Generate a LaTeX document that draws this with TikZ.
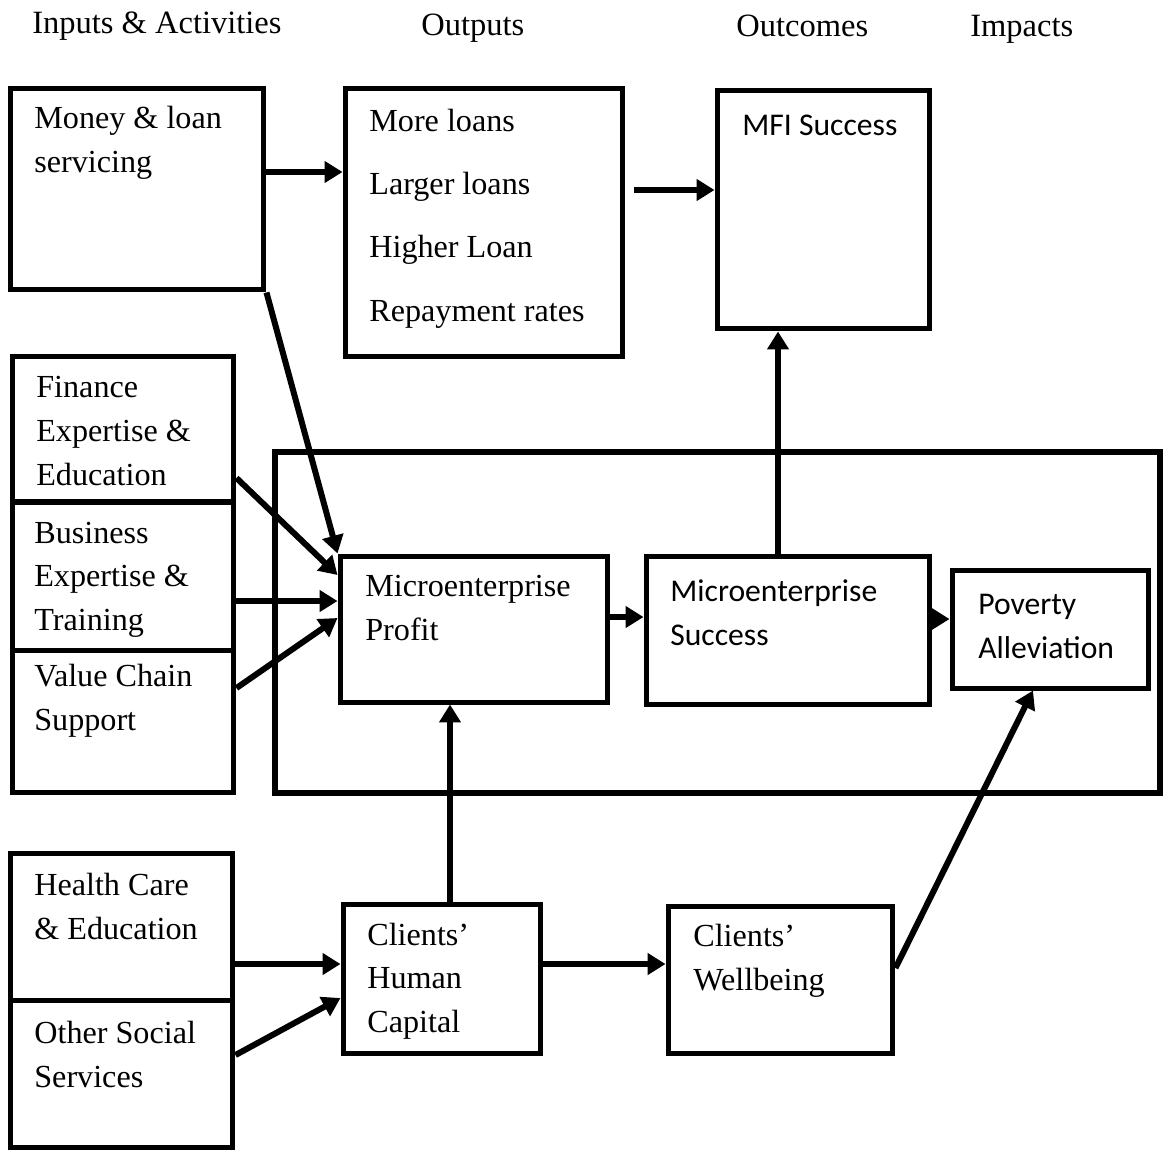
\documentclass[tikz,border=0pt]{standalone}
\usepackage{fontspec}
\setmainfont{Liberation Serif}
\newfontfamily\calib{Carlito}
\usetikzlibrary{arrows.meta,calc}
\tikzset{
	box/.style={draw,line width=0.1cm,inner sep=0pt},
	frame/.style={draw,line width=0.13cm,inner sep=0pt},
	arr/.style={line width=0.12cm,-{Triangle[length=0.36cm,width=0.42cm]}},
	txt/.style={anchor=base west,align=left,inner sep=0pt,font=\fontsize{18.3}{24.5}\selectfont},
	stxt/.style={txt,font=\calib\fontsize{18}{25}\selectfont},
	head/.style={anchor=base west,inner sep=0pt,font=\fontsize{18.5}{22}\selectfont}
}

\begin{document}
\begin{tikzpicture}[x=0.02cm,y=-0.02cm]
	\useasboundingbox (0,0) rectangle (1168,1150);
	% column headings
	\node [head] (h-in) at (32,33) {Inputs \& Activities};
	\node [head] (h-out) at (421,35) {Outputs};
	\node [head] (h-oc) at (736,36) {Outcomes};
	\node [head] (h-imp) at (970,36) {Impacts};

	% boxes
	\node [frame,minimum width=17.7cm,minimum height=6.82cm] (core) at (717.5,622.5) {};
	\node [box,minimum width=5.08cm,minimum height=4.04cm] (money) at (137,189) {};
	\node [box,minimum width=5.56cm,minimum height=5.38cm] (outp) at (484,222.5) {};
	\node [box,minimum width=4.26cm,minimum height=4.78cm] (mfi) at (823.5,209.5) {};
	\node [box,minimum width=4.44cm,minimum height=2.92cm] (fin) at (123,429) {};
	\node [box,minimum width=4.44cm,minimum height=2.96cm] (bus) at (123,576) {};
	\node [box,minimum width=4.44cm,minimum height=2.84cm] (vcs) at (123,721) {};
	\node [box,minimum width=5.36cm,minimum height=2.92cm] (prof) at (474,629) {};
	\node [box,minimum width=5.68cm,minimum height=2.96cm] (succ) at (788,630) {};
	\node [box,minimum width=3.92cm,minimum height=2.36cm] (pov) at (1050,629) {};
	\node [box,minimum width=4.46cm,minimum height=2.94cm] (hlth) at (121.5,926.5) {};
	\node [box,minimum width=4.46cm,minimum height=2.94cm] (soc) at (121.5,1073.5) {};
	\node [box,minimum width=3.96cm,minimum height=2.98cm] (hum) at (442,978.5) {};
	\node [box,minimum width=4.5cm,minimum height=2.94cm] (well) at (780.5,979.5) {};

	% box texts (placed by the baseline of their last line)
	\node [txt] (money-t) at (34,172) {Money \& loan\\servicing};
	\node [txt,font=\fontsize{18.3}{35.9}\selectfont] (outp-t) at (369,321) {More loans\\Larger loans\\Higher Loan\\Repayment rates};
	\node [stxt] (mfi-t) at (742,135) {MFI Success};
	\node [txt,font=\fontsize{18.3}{24.8}\selectfont] (fin-t) at (36,485) {Finance\\Expertise \&\\Education};
	\node [txt] (bus-t) at (34,630) {Business\\Expertise \&\\Training};
	\node [txt] (vcs-t) at (34,730) {Value Chain\\Support};
	\node [txt] (prof-t) at (365,640) {Microenterprise\\Profit};
	\node [stxt] (succ-t) at (670,645) {Microenterprise\\Success};
	\node [stxt] (pov-t) at (978,658) {Poverty\\Alleviation};
	\node [txt] (hlth-t) at (34,939) {Health Care\\\& Education};
	\node [txt] (soc-t) at (34,1087) {Other Social\\Services};
	\node [txt] (hum-t) at (367,1032) {Clients’\\Human\\Capital};
	\node [txt] (well-t) at (693,990) {Clients’\\Wellbeing};

	% arrows
	\draw [arr] (money.east |- 0,172) -- (outp.west |- 0,172);
	\draw [arr] ($(outp.east |- 0,190)+(9,0)$) -- (mfi.west |- 0,190);
	\draw [arr] (money.south east) -- (prof.north west);
	\draw [arr] (fin.east |- 0,478) -- (prof.west |- 0,575);
	\draw [arr] (bus.east |- 0,601) -- (prof.west |- 0,601);
	\draw [arr] (vcs.east |- 0,688) -- (prof.west |- 0,618);
	\draw [arr] (prof.east |- 0,617) -- (succ.west |- 0,617);
	\draw [arr] (succ.east |- 0,619) -- (pov.west |- 0,619);
	\draw [arr] (succ.north -| 778,0) -- (mfi.south -| 778,0);
	\draw [arr] (hum.north -| 450,0) -- (prof.south -| 450,0);
	\draw [arr] (hlth.east |- 0,964) -- (hum.west |- 0,964);
	\draw [arr] (soc.east |- 0,1055) -- (hum.west |- 0,998);
	\draw [arr] (hum.east |- 0,964) -- (well.west |- 0,964);
	\draw [arr] (well.east |- 0,968) -- (pov.south -| 1033,0);
\end{tikzpicture}
\end{document}
